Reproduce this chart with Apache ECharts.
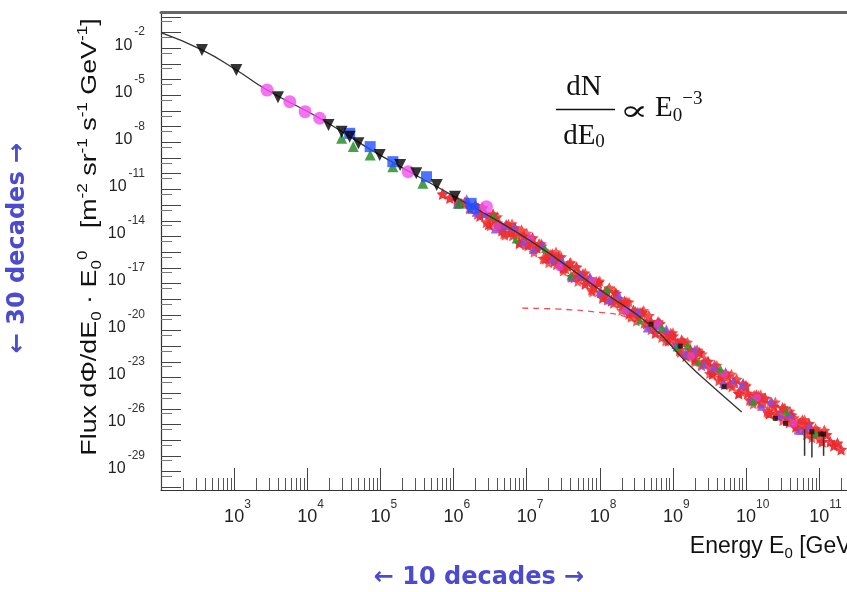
<!DOCTYPE html>
<html><head><meta charset="utf-8">
<script src="https://cdn.jsdelivr.net/npm/echarts@6/dist/echarts.min.js"></script>
<style>html,body{margin:0;padding:0;background:#fff}#c{width:847px;height:592px}</style>
</head><body><div id="c"></div>
<script>
// All values are log10: x = log10(E0 / GeV), y = log10(flux)
const xTickLabels = [3,4,5,6,7,8,9,10,11];
const yTickLabels = [-29,-26,-23,-20,-17,-14,-11,-8,-5,-2];

const fitLine = [[2.00,-2.00],[2.56,-3.10],[3.03,-4.38],[3.45,-5.66],[4.17,-7.46],[4.99,-9.80],[6.02,-12.48],[7.04,-15.25],[8.00,-18.40],[8.70,-20.70],[9.22,-23.20],[9.50,-24.40],[9.94,-26.20]];
const dashedComponent = [[6.94,-19.58],[7.45,-19.64],[8.00,-19.85],[8.30,-20.05],[8.60,-20.55],[9.00,-21.70],[9.50,-23.40],[10.00,-25.00],[10.50,-26.40],[11.00,-27.75],[11.36,-28.83]];

const blackTriangles = [[2.56,-3.10],[3.03,-4.38],[3.60,-6.12],[4.29,-7.89],[4.47,-8.32],[4.58,-8.64],[4.70,-9.06],[4.99,-9.80],[5.27,-10.44],[5.49,-10.97],[5.77,-11.72],[6.02,-12.47]];
const magentaCircles = [[3.45,-5.66],[3.76,-6.40],[3.97,-7.04],[4.17,-7.46],[5.38,-10.87],[6.45,-13.10]];
const greenTriangles = [[4.47,-8.74],[4.63,-9.27],[4.86,-9.80],[5.17,-10.55],[5.58,-11.61],[6.08,-12.89]];
const blueSquares = [[4.58,-8.42],[4.86,-9.27],[5.17,-10.23],[5.63,-11.19],[6.24,-12.89],[6.27,-13.21]];

const bandRed = [[5.85,-12.30],[5.95,-12.55],[6.05,-12.70],[6.15,-12.85],[6.22,-13.20],[6.30,-13.03],[6.36,-13.69],[6.42,-13.56],[6.48,-14.22],[6.54,-13.59],[6.60,-14.15],[6.66,-14.62],[6.72,-14.28],[6.78,-14.75],[6.84,-14.46],[6.90,-15.43],[6.96,-14.99],[7.02,-15.56],[7.08,-15.10],[7.14,-15.73],[7.20,-15.62],[7.26,-16.41],[7.32,-16.19],[7.38,-16.58],[7.44,-16.31],[7.50,-17.00],[7.56,-16.89],[7.62,-17.57],[7.68,-16.96],[7.74,-17.54],[7.80,-18.03],[7.86,-17.72],[7.92,-18.20],[7.98,-17.94],[8.04,-18.92],[8.10,-18.51],[8.16,-19.10],[8.22,-18.63],[8.28,-19.27],[8.34,-19.15],[8.40,-19.94],[8.46,-19.73],[8.52,-20.12],[8.58,-19.86],[8.64,-20.56],[8.70,-20.46],[8.76,-21.16],[8.82,-20.56],[8.88,-21.15],[8.94,-21.65],[9.00,-21.35],[9.06,-21.86],[9.12,-21.62],[9.18,-22.63],[9.24,-22.24],[9.30,-22.85],[9.36,-22.41],[9.42,-23.07],[9.48,-22.98],[9.54,-23.78],[9.60,-23.58],[9.66,-23.98],[9.72,-23.73],[9.78,-24.42],[9.84,-24.32],[9.90,-25.02],[9.96,-24.42],[10.02,-25.01],[10.08,-25.47],[10.14,-25.14],[10.20,-25.61],[10.26,-25.33],[10.32,-26.30],[10.38,-25.86],[10.44,-26.43],[10.50,-25.95],[10.56,-26.55],[10.62,-26.40],[10.68,-27.15],[10.74,-26.90],[10.80,-27.25],[10.86,-26.95],[10.92,-27.60],[10.98,-27.45],[11.04,-28.10],[11.10,-27.65],[11.15,-28.10],[11.20,-28.35],[11.25,-28.20],[11.30,-28.60]];
const bandRed2 = [[6.33,-13.56],[6.39,-13.22],[6.45,-14.09],[6.51,-13.80],[6.57,-13.82],[6.63,-14.28],[6.69,-14.80],[6.75,-14.26],[6.81,-14.93],[6.87,-14.89],[6.93,-14.61],[6.99,-15.52],[7.05,-15.26],[7.11,-15.69],[7.17,-15.48],[7.23,-16.41],[7.29,-16.10],[7.35,-16.14],[7.41,-16.77],[7.47,-16.31],[7.53,-17.04],[7.59,-16.73],[7.65,-17.62],[7.71,-17.35],[7.77,-17.39],[7.83,-17.87],[7.89,-18.41],[7.95,-17.90],[8.01,-18.58],[8.07,-18.57],[8.13,-18.30],[8.19,-19.24],[8.25,-18.98],[8.31,-19.41],[8.37,-19.20],[8.43,-20.13],[8.49,-19.82],[8.55,-19.87],[8.61,-20.51],[8.67,-20.06],[8.73,-20.81],[8.79,-20.51],[8.85,-21.41],[8.91,-21.15],[8.97,-21.20],[9.03,-21.71],[9.09,-22.27],[9.15,-21.78],[9.21,-22.49],[9.27,-22.50],[9.33,-22.26],[9.39,-23.22],[9.45,-22.98],[9.51,-23.43],[9.57,-23.23],[9.63,-24.18],[9.69,-23.88],[9.75,-23.93],[9.81,-24.57],[9.87,-24.12],[9.93,-24.87],[9.99,-24.57],[10.05,-25.44],[10.11,-25.16],[10.17,-25.18],[10.23,-25.64],[10.29,-26.16],[10.35,-25.63],[10.41,-26.30],[10.47,-26.27],[10.53,-25.98],[10.59,-26.88],[10.65,-26.58],[10.71,-26.98],[10.77,-26.73],[10.83,-27.63],[10.89,-27.28],[10.95,-27.28],[11.01,-27.88],[11.07,-27.38]];
const bandRedEdge = [[6.40,-13.15],[6.50,-14.33],[6.60,-13.75],[6.70,-14.93],[6.80,-14.20],[6.90,-15.38],[7.00,-14.80],[7.10,-16.01],[7.20,-15.47],[7.30,-16.68],[7.40,-15.99],[7.50,-17.20],[7.60,-16.66],[7.70,-17.87],[7.80,-17.33],[7.90,-18.54],[8.00,-17.85],[8.10,-19.06],[8.20,-18.52],[8.30,-19.73],[8.40,-19.19],[8.50,-20.40],[8.60,-19.73],[8.70,-20.96],[8.80,-20.44],[8.90,-21.67],[9.00,-21.15],[9.10,-22.40],[9.20,-21.75],[9.30,-23.00],[9.40,-22.50],[9.50,-23.75],[9.60,-23.23],[9.70,-24.46],[9.80,-23.79],[9.90,-25.02],[10.00,-24.50],[10.10,-25.68],[10.20,-25.11],[10.30,-26.29],[10.40,-25.57],[10.50,-26.75],[10.60,-26.15],[10.70,-27.30],[10.80,-26.70],[10.90,-27.85]];
const bandPurple = [[6.05,-12.94],[6.18,-12.60],[6.31,-13.45],[6.44,-13.51],[6.57,-14.52],[6.70,-14.33],[6.83,-14.43],[6.96,-15.34],[7.09,-15.83],[7.22,-15.53],[7.35,-16.44],[7.48,-16.54],[7.61,-17.59],[7.74,-17.44],[7.87,-17.60],[8.00,-18.55],[8.13,-19.05],[8.26,-18.76],[8.39,-19.66],[8.52,-19.77],[8.65,-20.85],[8.78,-20.72],[8.91,-20.90],[9.04,-21.89],[9.17,-22.45],[9.30,-22.20],[9.43,-23.16],[9.56,-23.30],[9.69,-24.38],[9.82,-24.26],[9.95,-24.44],[10.08,-25.37],[10.21,-25.84],[10.34,-25.50],[10.47,-26.37],[10.60,-26.40],[10.73,-27.38],[10.86,-27.15]];
const bandGreen = [[6.55,-13.71],[6.85,-15.19],[7.25,-15.78],[7.60,-17.51],[8.10,-18.36],[8.55,-20.37],[8.85,-20.81],[9.05,-22.08],[9.20,-21.95],[9.35,-22.98],[9.65,-23.45],[10.10,-25.53],[10.55,-26.18],[10.95,-27.58]];
const bandMagenta = [[6.60,-14.35],[7.05,-15.11],[7.45,-16.95],[7.90,-17.84],[8.35,-19.74],[8.80,-20.59],[9.25,-22.63],[9.70,-23.76],[10.15,-25.27],[10.65,-26.93]];
const bandBlack = [[8.70,-20.60],[9.10,-22.00],[9.70,-24.59],[10.40,-26.61],[10.54,-26.93],[10.90,-27.46],[11.02,-27.61],[11.06,-27.61]];
const errorBars = [[10.80,-27.30,-29.00],[10.90,-27.50,-29.10],[11.06,-27.60,-29.00]];

const X0 = 2, X1 = 11.38, Y0 = -31.18, Y1 = -0.68;
const majorX = [], minorX = [], majorY = [], minorY = [];
for (let n = 2; n <= 11; n++) majorX.push(n);
for (let n = 2; n < 12; n++) for (let k = 2; k <= 9; k++) { const v = n + Math.log10(k); if (v < X1) minorX.push(v); }
for (let n = -31; n <= -1; n++) { majorY.push(n); if (n - 0.301 > Y0) minorY.push(n - 0.301); }

const labFont = 'Liberation Sans';
function supLabel(v) { return '{h|' + v + '}{b|10}{s|' + v + '}'; }
const xRich = {
  h: {fontSize: 12, lineHeight: 12, verticalAlign: 'top', color: 'rgba(0,0,0,0)', fontFamily: labFont},
  b: {fontSize: 18, lineHeight: 27, verticalAlign: 'bottom', color: '#222', fontFamily: labFont},
  s: {fontSize: 12, lineHeight: 12, verticalAlign: 'top', color: '#333', fontFamily: labFont}
};
const yRich = {
  b: {fontSize: 16, lineHeight: 27, verticalAlign: 'bottom', color: '#222', fontFamily: labFont},
  s: {fontSize: 12, lineHeight: 12, verticalAlign: 'top', color: '#333', fontFamily: labFont, padding: [0,0,0,2]}
};

const star = 'path://M0,-10L2.9,-4L9.5,-3.1L4.7,1.5L5.9,8.1L0,5L-5.9,8.1L-4.7,1.5L-9.5,-3.1L-2.9,-4Z';
const blue = '#4b4bd0';

const chart = echarts.init(document.getElementById('c'));
chart.setOption({
  animation: false,
  backgroundColor: '#fff',
  grid: {left: 161, top: 12, right: 0, bottom: 102, containLabel: false},
  xAxis: [
    {type: 'value', min: X0, max: X1, position: 'bottom', splitLine: {show: false},
     axisLine: {onZero: false, lineStyle: {color: '#333', width: 1.2}},
     axisTick: {inside: true, length: 22, customValues: majorX, lineStyle: {color: '#444'}},
     axisLabel: {customValues: xTickLabels, formatter: supLabel, margin: 9, rich: xRich}},
    {type: 'value', min: X0, max: X1, position: 'bottom', splitLine: {show: false},
     axisLine: {show: false},
     axisTick: {inside: true, length: 12, customValues: minorX, lineStyle: {color: '#555'}},
     axisLabel: {show: false}},
    {type: 'value', min: X0, max: X1, position: 'top', splitLine: {show: false},
     axisLine: {onZero: false, lineStyle: {color: '#666', width: 3}},
     axisTick: {show: false}, axisLabel: {show: false}}
  ],
  yAxis: [
    {type: 'value', min: Y0, max: Y1, position: 'left', splitLine: {show: false},
     axisLine: {onZero: false, lineStyle: {color: '#333', width: 1.2}},
     axisTick: {inside: true, length: 20, customValues: majorY, lineStyle: {color: '#444'}},
     axisLabel: {customValues: yTickLabels, formatter: v => '{b|10}{s|' + v + '}', margin: 16, padding: [14,0,0,0], rich: yRich}},
    {type: 'value', min: Y0, max: Y1, position: 'left', splitLine: {show: false},
     axisLine: {show: false},
     axisTick: {inside: true, length: 11, customValues: minorY, lineStyle: {color: '#777'}},
     axisLabel: {show: false}}
  ],
  series: [
    {type: 'scatter', data: bandRedEdge, symbol: star, symbolSize: 11, itemStyle: {color: '#ee3a3a', opacity: 0.8}, z: 2},
    {type: 'scatter', data: bandRed, symbol: star, symbolSize: 12, itemStyle: {color: '#e8232b', opacity: 0.9}, z: 2},
    {type: 'scatter', data: bandRed2, symbol: star, symbolSize: 12, itemStyle: {color: '#f03030', opacity: 0.85}, z: 2},
    {type: 'scatter', data: bandPurple, symbol: 'triangle', symbolSize: 9, itemStyle: {color: '#8a4be0', opacity: 0.85}, z: 2},
    {type: 'scatter', data: bandMagenta, symbol: 'circle', symbolSize: 8, itemStyle: {color: '#e040c0', opacity: 0.85}, z: 2},
    {type: 'scatter', data: bandGreen, symbol: 'triangle', symbolSize: 8, itemStyle: {color: '#2a9a2a', opacity: 0.9}, z: 2},
    {type: 'scatter', data: bandBlack, symbol: 'rect', symbolSize: 5, itemStyle: {color: '#111'}, z: 3},
    {type: 'custom', data: errorBars, z: 3,
     renderItem: (params, api) => {
       const a = api.coord([api.value(0), api.value(1)]);
       const b = api.coord([api.value(0), api.value(2)]);
       return {type: 'line', shape: {x1: a[0], y1: a[1], x2: b[0], y2: b[1]}, style: {stroke: '#333', lineWidth: 1.5}};
     }},
    {type: 'line', data: dashedComponent, showSymbol: false, smooth: true, lineStyle: {color: '#f05050', width: 1.3, type: [6, 5]}, z: 3},
    {type: 'line', data: fitLine, showSymbol: false, smooth: true, lineStyle: {color: '#333', width: 1.3}, z: 4},
    {type: 'scatter', data: magentaCircles, symbol: 'circle', symbolSize: 13, itemStyle: {color: '#f050f0'}, z: 5},
    {type: 'scatter', data: greenTriangles, symbol: 'triangle', symbolSize: 11, itemStyle: {color: '#1a8a1a'}, z: 5},
    {type: 'scatter', data: blueSquares, symbol: 'rect', symbolSize: 11, itemStyle: {color: '#2050ff'}, z: 5},
    {type: 'scatter', data: blackTriangles, symbol: 'triangle', symbolRotate: 180, symbolSize: 12, itemStyle: {color: '#000'}, z: 6}
  ],
  graphic: [
    {type: 'text', x: 90, y: 237, rotation: Math.PI / 2, scaleX: 1.22,
     style: {text: '{t|Flux dΦ/dE}{b|0}{t| · E}{b|0}{p|0}{t|   [m}{p|-2}{t| sr}{p|-1}{t| s}{p|-1}{t| GeV}{p|-1}{t|]}',
       align: 'center', verticalAlign: 'middle',
       rich: {
         t: {fontSize: 22, lineHeight: 28, fontFamily: labFont, fill: '#111'},
         b: {fontSize: 14, lineHeight: 14, verticalAlign: 'bottom', fontFamily: labFont, fill: '#111'},
         p: {fontSize: 14, lineHeight: 14, verticalAlign: 'top', fontFamily: labFont, fill: '#111'}
       }}},
    {type: 'text', x: 858, y: 547,
     style: {text: '{t|Energy E}{b|0}{t| [GeV]}', align: 'right', verticalAlign: 'middle',
       rich: {
         t: {fontSize: 23, lineHeight: 28, fontFamily: labFont, fill: '#111'},
         b: {fontSize: 15, lineHeight: 15, verticalAlign: 'bottom', fontFamily: labFont, fill: '#111'}
       }}},
    {type: 'text', x: 584, y: 87, style: {text: 'dN', align: 'center', verticalAlign: 'middle', font: '29px "Liberation Serif"', fill: '#111'}},
    {type: 'line', shape: {x1: 556, y1: 109.5, x2: 615, y2: 109.5}, style: {stroke: '#111', lineWidth: 1.5}},
    {type: 'text', x: 584, y: 136,
     style: {text: '{t|dE}{b|0}', align: 'center', verticalAlign: 'middle',
       rich: {t: {fontSize: 29, lineHeight: 32, fontFamily: 'Liberation Serif', fill: '#111'},
              b: {fontSize: 19, lineHeight: 19, verticalAlign: 'bottom', fontFamily: 'Liberation Serif', fill: '#111'}}}},
    {type: 'text', x: 634, y: 113, scaleX: 1.5, style: {text: '∝', align: 'center', verticalAlign: 'middle', font: '28px "DejaVu Serif"', fill: '#111'}},
    {type: 'text', x: 655, y: 108,
     style: {text: '{t|E}{b|0}{p|−3}', align: 'left', verticalAlign: 'middle',
       rich: {t: {fontSize: 29, lineHeight: 36, fontFamily: 'Liberation Serif', fill: '#111'},
              b: {fontSize: 19, lineHeight: 19, verticalAlign: 'bottom', fontFamily: 'Liberation Serif', fill: '#111'},
              p: {fontSize: 19, lineHeight: 19, verticalAlign: 'top', fontFamily: 'Liberation Serif', fill: '#111'}}}},
    {type: 'text', x: 479, y: 578, style: {text: '← 10 decades →', align: 'center', verticalAlign: 'middle', font: 'bold 24px "DejaVu Sans"', fill: blue}},
    {type: 'text', x: 18, y: 248, rotation: Math.PI / 2, style: {text: '← 30 decades →', align: 'center', verticalAlign: 'middle', font: 'bold 24px "DejaVu Sans"', fill: blue}}
  ]
});
</script></body></html>
